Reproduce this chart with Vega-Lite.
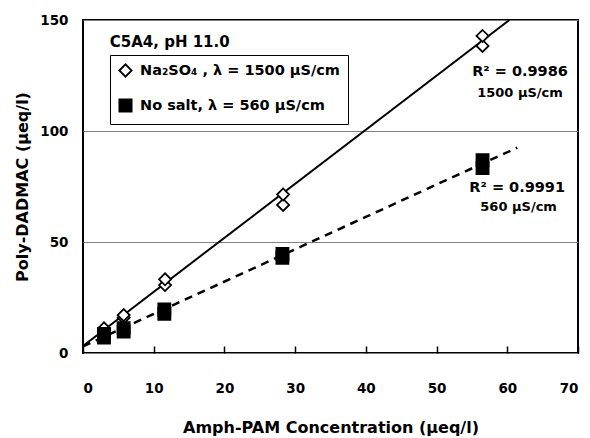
{
  "$schema": "https://vega.github.io/schema/vega-lite/v6.json",
  "width": 495,
  "height": 333,
  "autosize": {"type": "none"},
  "padding": {"left": 83, "top": 20, "right": 12, "bottom": 85},
  "background": "white",
  "config": {
    "view": {"stroke": "black", "strokeWidth": 2},
    "font": "DejaVu Sans",
    "axis": {"labelFont": "DejaVu Sans", "labelFontWeight": "bold", "labelFontSize": 13.5, "labelColor": "black", "titleFont": "DejaVu Sans", "titleFontWeight": "bold", "titleFontSize": 16, "titleColor": "black"},
    "legend": {"orient": "none", "legendX": 27, "legendY": 35, "strokeColor": "black", "fillColor": "white", "padding": 8, "rowPadding": 14, "labelFont": "DejaVu Sans", "labelFontWeight": "bold", "labelFontSize": 14.5, "labelColor": "black", "labelLimit": 400, "labelOffset": 7, "symbolSize": 150, "symbolStrokeWidth": 1.8, "symbolOpacity": 1, "zindex": 2}
  },
  "datasets": {
    "points": [
      {"series": "Na₂SO₄ , λ = 1500 µS/cm", "x": 2.97, "y": 10.2},
      {"series": "Na₂SO₄ , λ = 1500 µS/cm", "x": 2.97, "y": 11.1},
      {"series": "Na₂SO₄ , λ = 1500 µS/cm", "x": 5.75, "y": 15.9},
      {"series": "Na₂SO₄ , λ = 1500 µS/cm", "x": 5.75, "y": 17.1},
      {"series": "Na₂SO₄ , λ = 1500 µS/cm", "x": 11.6, "y": 30.6},
      {"series": "Na₂SO₄ , λ = 1500 µS/cm", "x": 11.6, "y": 33.2},
      {"series": "Na₂SO₄ , λ = 1500 µS/cm", "x": 28.3, "y": 66.7},
      {"series": "Na₂SO₄ , λ = 1500 µS/cm", "x": 28.3, "y": 71.4},
      {"series": "Na₂SO₄ , λ = 1500 µS/cm", "x": 56.5, "y": 138.3},
      {"series": "Na₂SO₄ , λ = 1500 µS/cm", "x": 56.5, "y": 142.8},
      {"series": "No salt,  λ = 560 µS/cm", "x": 2.97, "y": 6.9},
      {"series": "No salt,  λ = 560 µS/cm", "x": 2.97, "y": 8.6},
      {"series": "No salt,  λ = 560 µS/cm", "x": 5.75, "y": 9.7},
      {"series": "No salt,  λ = 560 µS/cm", "x": 5.75, "y": 11.2},
      {"series": "No salt,  λ = 560 µS/cm", "x": 11.5, "y": 17.6},
      {"series": "No salt,  λ = 560 µS/cm", "x": 11.5, "y": 19.6},
      {"series": "No salt,  λ = 560 µS/cm", "x": 28.2, "y": 42.9},
      {"series": "No salt,  λ = 560 µS/cm", "x": 28.2, "y": 44.6},
      {"series": "No salt,  λ = 560 µS/cm", "x": 56.5, "y": 83.3},
      {"series": "No salt,  λ = 560 µS/cm", "x": 56.5, "y": 86.9}
    ],
    "lines": [
      {"series": "Na2SO4", "x": 0, "y": 3.2},
      {"series": "Na2SO4", "x": 60.3, "y": 150},
      {"series": "NoSalt", "x": 0, "y": 3.0},
      {"series": "NoSalt", "x": 61.4, "y": 92.5}
    ],
    "notes": [
      {"kind": "title", "x": 3.78, "y": 140.2, "label": "C5A4, pH 11.0"},
      {"kind": "r2", "x": 61.8, "y": 126.4, "label": "R² = 0.9986"},
      {"kind": "cond", "x": 61.8, "y": 117.0, "label": "1500 µS/cm"},
      {"kind": "r2", "x": 61.4, "y": 74.5, "label": "R² = 0.9991"},
      {"kind": "cond", "x": 61.6, "y": 65.9, "label": "560 µS/cm"}
    ]
  },
  "layer": [
    {
      "data": {"name": "lines"},
      "transform": [{"filter": "datum.series === 'Na2SO4'"}],
      "mark": {"type": "line", "color": "black", "strokeWidth": 2, "clip": true},
      "encoding": {
        "x": {"field": "x", "type": "quantitative", "scale": {"domain": [0, 70], "nice": false},
          "axis": {"title": "Amph-PAM Concentration (µeq/l)", "values": [0, 10, 20, 30, 40, 50, 60, 70], "domain": false, "grid": false, "ticks": true, "tickSize": 7, "offset": -7, "tickColor": "black", "tickWidth": 1.5, "zindex": 1, "labelPadding": 28, "titlePadding": 25}},
        "y": {"field": "y", "type": "quantitative", "scale": {"domain": [0, 150], "nice": false},
          "axis": {"title": "Poly-DADMAC (µeq/l)", "values": [0, 50, 100, 150], "domain": false, "ticks": false, "grid": true, "gridColor": "#808080", "gridWidth": 1, "labelPadding": 15, "titlePadding": 9}}
      }
    },
    {
      "data": {"name": "lines"},
      "transform": [{"filter": "datum.series === 'NoSalt'"}],
      "mark": {"type": "line", "color": "black", "strokeWidth": 2.5, "strokeDash": [8, 6], "clip": true},
      "encoding": {
        "x": {"field": "x", "type": "quantitative"},
        "y": {"field": "y", "type": "quantitative"}
      }
    },
    {
      "data": {"name": "points"},
      "mark": {"type": "point", "strokeWidth": 1.8, "opacity": 1, "size": 145},
      "encoding": {
        "x": {"field": "x", "type": "quantitative"},
        "y": {"field": "y", "type": "quantitative"},
        "shape": {"field": "series", "type": "nominal", "title": null, "scale": {"domain": ["Na₂SO₄ , λ = 1500 µS/cm", "No salt,  λ = 560 µS/cm"], "range": ["diamond", "square"]}},
        "fill": {"field": "series", "type": "nominal", "title": null, "scale": {"domain": ["Na₂SO₄ , λ = 1500 µS/cm", "No salt,  λ = 560 µS/cm"], "range": ["white", "black"]}},
        "stroke": {"field": "series", "type": "nominal", "title": null, "scale": {"domain": ["Na₂SO₄ , λ = 1500 µS/cm", "No salt,  λ = 560 µS/cm"], "range": ["black", "black"]}}
      }
    },
    {
      "data": {"name": "notes"},
      "transform": [{"filter": "datum.kind === 'title'"}],
      "mark": {"type": "text", "align": "left", "baseline": "middle", "font": "DejaVu Sans", "fontWeight": "bold", "fontSize": 15, "color": "black"},
      "encoding": {"x": {"field": "x", "type": "quantitative"}, "y": {"field": "y", "type": "quantitative"}, "text": {"field": "label"}}
    },
    {
      "data": {"name": "notes"},
      "transform": [{"filter": "datum.kind === 'r2'"}],
      "mark": {"type": "text", "align": "center", "baseline": "middle", "font": "DejaVu Sans", "fontWeight": "bold", "fontSize": 14.5, "color": "black"},
      "encoding": {"x": {"field": "x", "type": "quantitative"}, "y": {"field": "y", "type": "quantitative"}, "text": {"field": "label"}}
    },
    {
      "data": {"name": "notes"},
      "transform": [{"filter": "datum.kind === 'cond'"}],
      "mark": {"type": "text", "align": "center", "baseline": "middle", "font": "DejaVu Sans", "fontWeight": "bold", "fontSize": 13, "color": "black"},
      "encoding": {"x": {"field": "x", "type": "quantitative"}, "y": {"field": "y", "type": "quantitative"}, "text": {"field": "label"}}
    }
  ]
}
